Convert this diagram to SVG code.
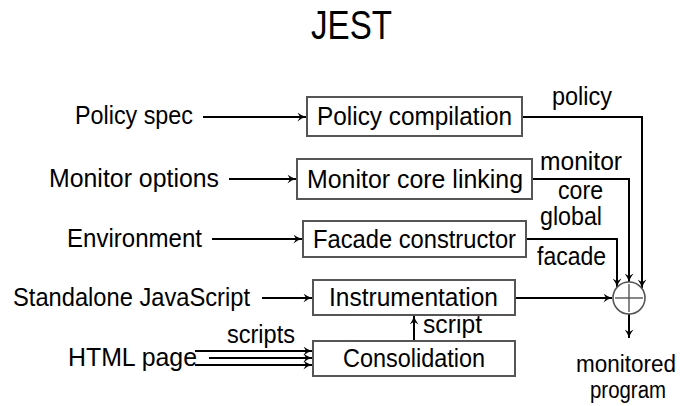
<svg xmlns="http://www.w3.org/2000/svg" width="680" height="406" viewBox="0 0 680 406">
<defs>
<style>
text{font-family:"Liberation Sans",Arial,sans-serif;font-size:25.5px;fill:#000}
.sm{font-size:23px}
.box{fill:#fff;stroke:#555;stroke-width:2}
.ln{fill:none;stroke:#000;stroke-width:2}
.circ{fill:#fff;stroke:#555;stroke-width:1.6}
.pl{stroke:#555;stroke-width:1.4}
</style>
<marker id="ahb" viewBox="0 0 10 10" refX="9.5" refY="5" markerWidth="9" markerHeight="9" orient="auto" markerUnits="userSpaceOnUse">
<path d="M0,0 Q5,4 10,5 Q5,6 0,10 L3,5 Z" fill="#000"/>
</marker>
</defs>
<rect width="680" height="406" fill="#fff"/>
<text x="311" y="39" textLength="81" lengthAdjust="spacingAndGlyphs" style="font-size:41px">JEST</text>

<g id="connectors">
<line class="ln" x1="203" y1="117" x2="306" y2="117" marker-end="url(#ahb)"/>
<line class="ln" x1="229" y1="179" x2="296" y2="179" marker-end="url(#ahb)"/>
<line class="ln" x1="212" y1="239" x2="302" y2="239" marker-end="url(#ahb)"/>
<line class="ln" x1="262" y1="298" x2="312" y2="298" marker-end="url(#ahb)"/>
<line class="ln" x1="195" y1="351" x2="312" y2="351" marker-end="url(#ahb)" style="stroke-width:1.8"/>
<line class="ln" x1="209" y1="358" x2="312" y2="358" marker-end="url(#ahb)" style="stroke-width:1.8"/>
<line class="ln" x1="195" y1="365" x2="312" y2="365" marker-end="url(#ahb)" style="stroke-width:1.8"/>
<line class="ln" x1="414" y1="341" x2="414" y2="316" marker-end="url(#ahb)"/>
<polyline class="ln" points="523,117 642,117 642,288" marker-end="url(#ahb)"/>
<polyline class="ln" points="533,179 629,179 629,282" marker-end="url(#ahb)"/>
<polyline class="ln" points="527,239 617,239 617,287" marker-end="url(#ahb)"/>
<line class="ln" x1="516" y1="298" x2="612" y2="298" marker-end="url(#ahb)"/>
<line class="ln" x1="629" y1="314" x2="629" y2="338" marker-end="url(#ahb)"/>
</g>

<g id="input-labels">
<text x="75" y="124" textLength="118" lengthAdjust="spacingAndGlyphs">Policy spec</text>
<text x="49" y="187" textLength="170" lengthAdjust="spacingAndGlyphs">Monitor options</text>
<text x="67" y="247" textLength="135" lengthAdjust="spacingAndGlyphs">Environment</text>
<text x="13" y="306" textLength="237" lengthAdjust="spacingAndGlyphs">Standalone JavaScript</text>
<text x="68" y="366" textLength="129" lengthAdjust="spacingAndGlyphs">HTML page</text>
<text x="227" y="343" textLength="68" lengthAdjust="spacingAndGlyphs">scripts</text>
<text x="423" y="333" textLength="59" lengthAdjust="spacingAndGlyphs">script</text>
</g>

<g id="policy-compilation">
<rect class="box" x="307" y="97" width="215" height="39"/>
<text x="317" y="125" textLength="195" lengthAdjust="spacingAndGlyphs">Policy compilation</text>
</g>
<g id="monitor-core-linking">
<rect class="box" x="297" y="159" width="235" height="40"/>
<text x="307" y="188" textLength="216" lengthAdjust="spacingAndGlyphs">Monitor core linking</text>
</g>
<g id="facade-constructor">
<rect class="box" x="303" y="221" width="223" height="36"/>
<text x="313" y="248" textLength="203" lengthAdjust="spacingAndGlyphs">Facade constructor</text>
</g>
<g id="instrumentation">
<rect class="box" x="313" y="280" width="202" height="35"/>
<text x="329" y="306" textLength="169" lengthAdjust="spacingAndGlyphs">Instrumentation</text>
</g>
<g id="consolidation">
<rect class="box" x="313" y="341" width="202" height="35"/>
<text x="343" y="367" textLength="142" lengthAdjust="spacingAndGlyphs">Consolidation</text>
</g>

<g id="combine">
<circle class="circ" cx="629" cy="298" r="16"/>
<line class="pl" x1="615" y1="298" x2="643" y2="298"/>
<line class="pl" x1="629" y1="284" x2="629" y2="312"/>
</g>

<g id="output-labels">
<text x="552" y="105" textLength="60" lengthAdjust="spacingAndGlyphs">policy</text>
<text x="540" y="170" textLength="82" lengthAdjust="spacingAndGlyphs">monitor</text>
<text x="558" y="199" textLength="45" lengthAdjust="spacingAndGlyphs">core</text>
<text x="540" y="225" textLength="62" lengthAdjust="spacingAndGlyphs">global</text>
<text x="537" y="265" textLength="69" lengthAdjust="spacingAndGlyphs">facade</text>
<text class="sm" x="576" y="372" textLength="100" lengthAdjust="spacingAndGlyphs">monitored</text>
<text class="sm" x="590" y="398" textLength="76" lengthAdjust="spacingAndGlyphs">program</text>
</g>
</svg>
